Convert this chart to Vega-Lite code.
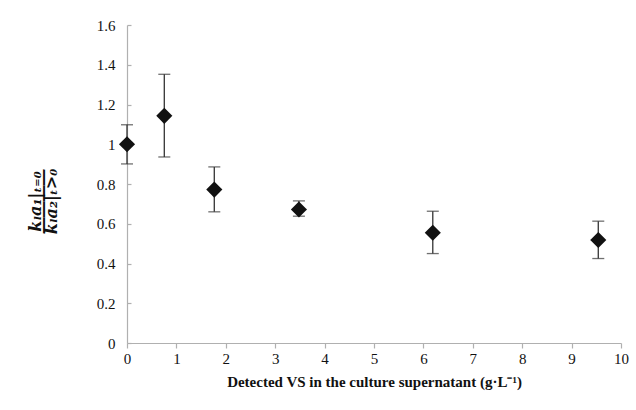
{
  "$schema": "https://vega.github.io/schema/vega-lite/v6.json",
  "autosize": "none",
  "width": 494,
  "height": 318,
  "padding": {"left": 127, "top": 25, "right": 15, "bottom": 67},
  "background": "white",
  "config": {
    "view": {"stroke": null},
    "font": "Liberation Serif",
    "axis": {
      "labelFont": "Liberation Serif, Times New Roman, serif",
      "labelFontSize": 15,
      "labelColor": "#111",
      "titleFont": "Liberation Serif, Times New Roman, serif",
      "titleColor": "#111",
      "domainColor": "#b0b0b0",
      "tickColor": "#b0b0b0",
      "domainWidth": 1.2,
      "tickWidth": 1.2,
      "grid": false
    }
  },
  "data": {
    "values": [
      {"vs": 0, "ratio": 1.0, "lo": 0.901, "hi": 1.098},
      {"vs": 0.755, "ratio": 1.143, "lo": 0.936, "hi": 1.352},
      {"vs": 1.767, "ratio": 0.772, "lo": 0.66, "hi": 0.886},
      {"vs": 3.48, "ratio": 0.672, "lo": 0.638, "hi": 0.715},
      {"vs": 6.19, "ratio": 0.555, "lo": 0.45, "hi": 0.663},
      {"vs": 9.54, "ratio": 0.518, "lo": 0.425, "hi": 0.613}
    ]
  },
  "encoding": {
    "x": {
      "field": "vs",
      "type": "quantitative",
      "scale": {"domain": [0, 10], "nice": false, "zero": false},
      "axis": {
        "values": [0, 1, 2, 3, 4, 5, 6, 7, 8, 9, 10],
        "tickCount": 20,
        "format": "~g",
        "tickSize": 5,
        "labelPadding": 3,
        "labelOverlap": false,
        "labelFlush": false,
        "title": "Detected VS in the culture supernatant (g·L⁻¹)",
        "titleFontSize": 15,
        "titleFontWeight": "bold",
        "titlePadding": 8
      }
    }
  },
  "layer": [
    {
      "mark": {"type": "rule", "color": "#333", "strokeWidth": 1.3},
      "encoding": {
        "y": {"field": "lo", "type": "quantitative", "scale": {"domain": [0, 1.6], "nice": false}},
        "y2": {"field": "hi"}
      }
    },
    {
      "mark": {"type": "tick", "color": "#333", "thickness": 1.3, "size": 12, "orient": "horizontal"},
      "encoding": {"y": {"field": "lo", "type": "quantitative"}}
    },
    {
      "mark": {"type": "tick", "color": "#333", "thickness": 1.3, "size": 12, "orient": "horizontal"},
      "encoding": {"y": {"field": "hi", "type": "quantitative"}}
    },
    {
      "mark": {"type": "point", "shape": "diamond", "filled": true, "color": "#111", "size": 260, "opacity": 1},
      "encoding": {
        "y": {
          "field": "ratio",
          "type": "quantitative",
          "axis": {
            "values": [0, 0.2, 0.4, 0.6, 0.8, 1, 1.2, 1.4, 1.6],
            "tickCount": 20,
            "format": "~g",
            "tickSize": -4,
            "labelPadding": 16,
            "labelOverlap": false,
            "labelFlush": false,
            "title": ["kₗa₁|ₜ₌₀", "――――", "kₗa₂|ₜ>₀"],
            "titleFont": "DejaVu Serif",
            "titleFontSize": 16,
            "titleFontWeight": "bold",
            "titleFontStyle": "italic",
            "titleLineHeight": 8,
            "titleX": -84,
            "titleY": 176
          }
        }
      }
    }
  ]
}
